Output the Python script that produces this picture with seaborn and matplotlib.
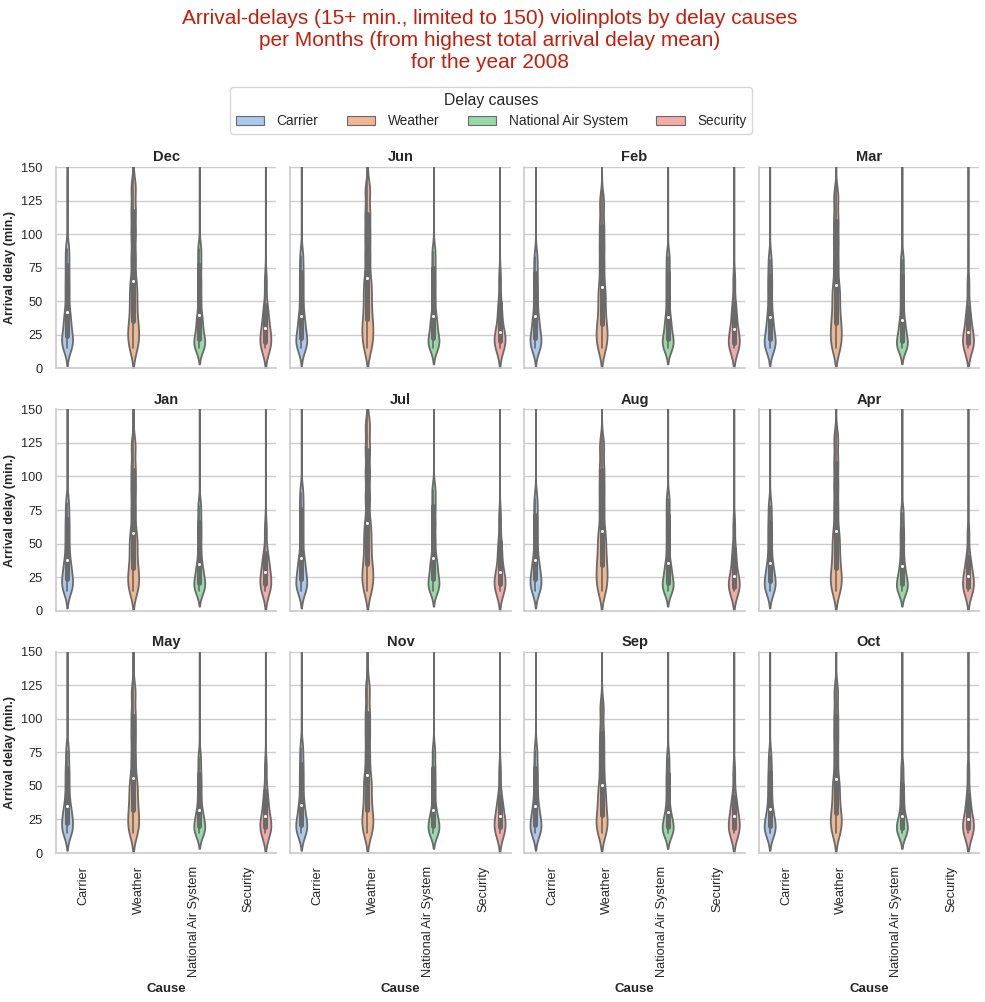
import pandas as pd
import matplotlib.pyplot as plt
import matplotlib.patches as mpatches
import seaborn as sns

causes = ['Carrier', 'Weather', 'National Air System', 'Security']
months = ['Dec', 'Jun', 'Feb', 'Mar', 'Jan', 'Jul', 'Aug', 'Apr', 'May', 'Nov', 'Sep', 'Oct']

# arrival delays (min.) per cause, 13 quantile-like values
# (min, .., q1, .., median, .., q3, .., long tail above the 150 limit)
dec = [[15, 18, 21, 24, 30, 36, 42, 54, 65, 77, 89, 170, 230],
       [15, 22, 28, 35, 45, 55, 65, 82, 100, 117, 135, 175, 260],
       [15, 17, 20, 22, 28, 34, 40, 52, 64, 77, 89, 170, 230],
       [15, 16.5, 18, 20, 23, 27, 30, 35, 41, 47, 65, 170, 230]]
jun = [[15, 18, 20, 23, 28, 34, 39, 50, 61, 72, 84, 170, 230],
       [15, 23, 30, 37, 47, 57, 67, 83, 99, 115, 133, 175, 260],
       [15, 18, 20, 23, 28, 34, 39, 51, 63, 75, 87, 170, 230],
       [15, 17, 19, 20.5, 23, 25, 27.5, 35, 42, 49, 67, 170, 230]]
feb = [[15, 18, 20, 23, 28, 34, 39, 50, 60, 71, 83, 170, 230],
       [15, 21, 27, 33, 42, 52, 61, 76, 91, 106, 124, 175, 260],
       [15, 17, 20, 22, 27, 33, 38, 49, 60, 71, 83, 170, 230],
       [15, 16.5, 17.5, 19, 22, 26, 29, 35, 42, 48, 66, 170, 230]]
mar = [[15, 17, 19, 22, 27, 33, 38, 48, 59, 69, 81, 170, 230],
       [15, 21, 28, 34, 43, 53, 62, 78, 94, 110, 128, 175, 260],
       [15, 17, 19, 20.5, 26, 31, 36, 47, 58, 69, 81, 170, 230],
       [15, 16.5, 17.5, 19, 22, 25, 27.5, 33, 39, 45, 63, 170, 230]]
jan = [[15, 18, 20, 23.5, 28, 33, 38, 48, 58, 68, 80, 170, 230],
       [15, 20, 26, 32, 41, 50, 58, 74, 90, 105, 123, 175, 260],
       [15, 17, 19, 21, 26, 30, 35, 45, 56, 66, 78, 170, 230],
       [15, 16.5, 18, 20, 23, 26, 29, 34, 38, 43, 61, 170, 230]]
jul = [[15, 18, 20, 23.5, 29, 34, 39.5, 52, 64, 76, 88, 170, 230],
       [15, 22, 28, 35, 45, 55, 65.5, 84, 102, 120, 138, 175, 260],
       [15, 18, 20, 23.5, 29, 34, 39.5, 52, 65, 78, 90, 170, 230],
       [15, 16.5, 18, 20, 23, 26, 29, 36, 44, 51, 69, 170, 230]]
aug = [[15, 18, 20, 23.5, 28, 33, 38, 49, 60, 71, 83, 170, 230],
       [15, 21, 28, 34, 42, 51, 59.5, 75, 90, 105, 123, 175, 260],
       [15, 17, 19, 21, 26, 31, 35.5, 47, 59, 71, 83, 170, 230],
       [15, 16, 17, 18, 21, 23.5, 26, 33, 40, 46, 64, 170, 230]]
apr = [[15, 17, 19, 22, 26, 31, 35.5, 46, 56, 66, 78, 170, 230],
       [15, 20, 26, 32, 41, 50, 59.5, 76, 93, 110, 128, 175, 260],
       [15, 16.5, 18, 20, 24, 28.5, 33, 42, 52, 61, 73, 170, 230],
       [15, 16, 17, 18, 21, 23.5, 26, 31, 35, 40, 58, 170, 230]]
may = [[15, 17, 19.5, 22.5, 27, 31, 35, 44, 54, 63.5, 76, 170, 230],
       [15, 20, 26, 32, 40, 48, 56, 71, 87, 102, 120, 175, 260],
       [15, 16.5, 18, 20, 24, 28, 32, 41, 50, 59, 71, 170, 230],
       [15, 16.5, 17.5, 19, 22, 25, 27.5, 34, 40, 46, 64, 170, 230]]
nov = [[15, 17, 19, 21, 26, 31, 36, 46, 56, 66, 78, 170, 230],
       [15, 20, 26, 32, 41, 50, 58, 73, 89, 104, 122, 175, 260],
       [15, 16.5, 18, 20, 24, 28, 32, 43, 53, 63.5, 76, 170, 230],
       [15, 16.5, 17.5, 19, 22, 25, 27.5, 32, 37, 42, 60, 170, 230]]
sep = [[15, 17, 19, 21, 26, 30, 35, 44, 54, 63.5, 76, 170, 230],
       [15, 19, 24, 28.5, 36, 43, 50.5, 63, 76, 89.5, 108, 175, 260],
       [15, 16, 17.5, 19, 23, 27, 30.5, 40, 50, 59, 71, 170, 230],
       [15, 16, 17, 18.5, 21.5, 24.5, 27.5, 32, 37, 42, 60, 170, 230]]
oct_ = [[15, 16.5, 18, 20, 24, 28.5, 33, 42, 51, 60, 72, 170, 230],
        [15, 20, 25, 30, 38, 47, 55, 71, 87, 102, 120, 175, 260],
        [15, 16, 17, 18.5, 21.5, 24.5, 27.5, 35, 43, 51, 63, 170, 230],
        [15, 16, 17, 18.5, 21, 23, 25.5, 31, 37, 43.5, 61, 170, 230]]

month_data = [dec, jun, feb, mar, jan, jul, aug, apr, may, nov, sep, oct_]

rows = []
for m, per_cause in zip(months, month_data):
    for cause, vals in zip(causes, per_cause):
        for v in vals:
            rows.append((m, cause, v))
df = pd.DataFrame(rows, columns=['Month', 'Cause', 'ArrDelay'])

sns.set_theme(style='whitegrid')
plt.rcParams['font.family'] = ['Liberation Sans', 'DejaVu Sans']

palette = dict(zip(causes, sns.color_palette('pastel', 4)))
# kde bandwidth in minutes for each cause
bw_min = {'Carrier': 6.5, 'Weather': 7.5, 'National Air System': 5.8, 'Security': 7.5}
edge = '#6a6a6a'


def fixed_bw(width):
    # scipy's gaussian_kde wants a factor of the data std
    return lambda kde: width / kde.dataset.std(ddof=1)


fig, axes = plt.subplots(3, 4, figsize=(9.85, 10.02), dpi=100, sharex=True, sharey=True)
fig.subplots_adjust(left=0.0569, right=0.9939, top=0.8333, bottom=0.1487,
                    wspace=0.063, hspace=0.203)

for i, (ax, m) in enumerate(zip(axes.flat, months)):
    sub = df[df.Month == m]
    for cause in causes:
        sns.violinplot(data=sub[sub.Cause == cause], x='Cause', y='ArrDelay', hue='Cause',
                       order=causes, hue_order=causes, palette=palette, dodge=True,
                       density_norm='width', bw_method=fixed_bw(bw_min[cause]), cut=2,
                       inner='box', inner_kws=dict(box_width=3.6, whis_width=1.2),
                       linewidth=1.3, linecolor=edge, legend=False, ax=ax)
    # median as small white dot
    for ln in ax.lines:
        if len(ln.get_xdata()) == 1:
            ln.set_marker('o')
            ln.set_markersize(2.2)
            ln.set_markerfacecolor('white')
            ln.set_markeredgecolor('white')
            ln.set_markeredgewidth(0)
    ax.set_ylim(0, 150)
    ax.set_yticks([0, 25, 50, 75, 100, 125, 150])
    ax.grid(axis='x', visible=False)
    ax.set_title(m, fontweight='bold', fontsize=10.5, pad=4)
    ax.tick_params(labelsize=9.2)
    ax.tick_params(axis='x', labelrotation=90)
    if i % 4 == 0:
        ax.set_ylabel('Arrival delay (min.)', fontweight='bold', fontsize=9)
    else:
        ax.set_ylabel('')
    if i >= 8:
        ax.set_xlabel('Cause', fontweight='bold', fontsize=9.5)
    else:
        ax.set_xlabel('')
    sns.despine(ax=ax)

fig.text(0.4975, 0.991,
         'Arrival-delays (15+ min., limited to 150) violinplots by delay causes\n'
         'per Months (from highest total arrival delay mean)\n'
         'for the year 2008',
         ha='center', va='top', color='#c41e0a', fontsize=15)

handles = [mpatches.Patch(facecolor=sns.desaturate(palette[c], 0.75), edgecolor=edge,
                          linewidth=0.8, label=c) for c in causes]
fig.legend(handles=handles, title='Delay causes', loc='center',
           bbox_to_anchor=(0.4985, 0.8897), ncol=4, fontsize=9.8, title_fontsize=11.3,
           handlelength=2.1, handletextpad=0.9, columnspacing=2.1, frameon=True)

fig.savefig('out.png', dpi=100)
